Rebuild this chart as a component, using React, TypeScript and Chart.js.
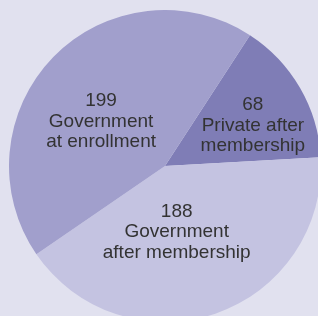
import React, { useEffect, useRef } from "react";
import { Chart, registerables } from "chart.js";

Chart.register(...registerables);

const categories = ["Private after membership", "Government after membership", "Government at enrollment"];
const values = [68, 188, 199];
const labelLines = [
  ["68", "Private after", "membership"],
  ["188", "Government", "after membership"],
  ["199", "Government", "at enrollment"],
];
const colors = ["#7f7db6", "#c4c3e1", "#a19fcc"];

// label placement tweaks (angle offset in degrees from slice middle, radius fraction)
const labelAngleAdjust = [5.4, 8.8, -9.3];
const labelRadiusFrac = [0.62, 0.43, 0.5];

const labelPlugin = {
  id: "sliceLabels",
  afterDatasetsDraw(chart: any) {
    const ctx = chart.ctx;
    const meta = chart.getDatasetMeta(0);
    ctx.save();
    ctx.font = "19px 'Liberation Sans', Arial, sans-serif";
    ctx.fillStyle = "#333333";
    ctx.textAlign = "center";
    ctx.textBaseline = "middle";
    const lh = 20.5;
    meta.data.forEach((arc: any, i: number) => {
      const p = arc.getProps(["x", "y", "startAngle", "endAngle", "outerRadius"], true);
      const mid = (p.startAngle + p.endAngle) / 2 + (labelAngleAdjust[i] * Math.PI) / 180;
      const d = p.outerRadius * labelRadiusFrac[i];
      const cx = p.x + Math.cos(mid) * d;
      const cy = p.y + Math.sin(mid) * d;
      const lines = labelLines[i];
      const top = cy - ((lines.length - 1) * lh) / 2;
      lines.forEach((t, j) => ctx.fillText(t, cx, top + j * lh));
    });
    ctx.restore();
  },
};

export default function App() {
  const ref = useRef<HTMLCanvasElement | null>(null);
  useEffect(() => {
    if (!ref.current) return;
    const chart = new Chart(ref.current, {
      type: "pie",
      data: {
        labels: categories,
        datasets: [
          {
            data: values,
            backgroundColor: colors,
            borderWidth: 0,
          },
        ],
      },
      options: {
        animation: false,
        responsive: false,
        rotation: 33,
        layout: { padding: 0 },
        plugins: {
          legend: { display: false },
          tooltip: { enabled: false },
        },
      },
      plugins: [labelPlugin],
    });
    return () => chart.destroy();
  }, []);
  return (
    <div
      style={{
        position: "fixed",
        left: 0,
        top: 0,
        width: 318,
        height: 316,
        overflow: "hidden",
        background: "#e1e1ef",
      }}
    >
      <canvas
        ref={ref}
        width={312}
        height={312}
        style={{ position: "absolute", left: 9, top: 10, width: 312, height: 312 }}
      />
    </div>
  );
}
